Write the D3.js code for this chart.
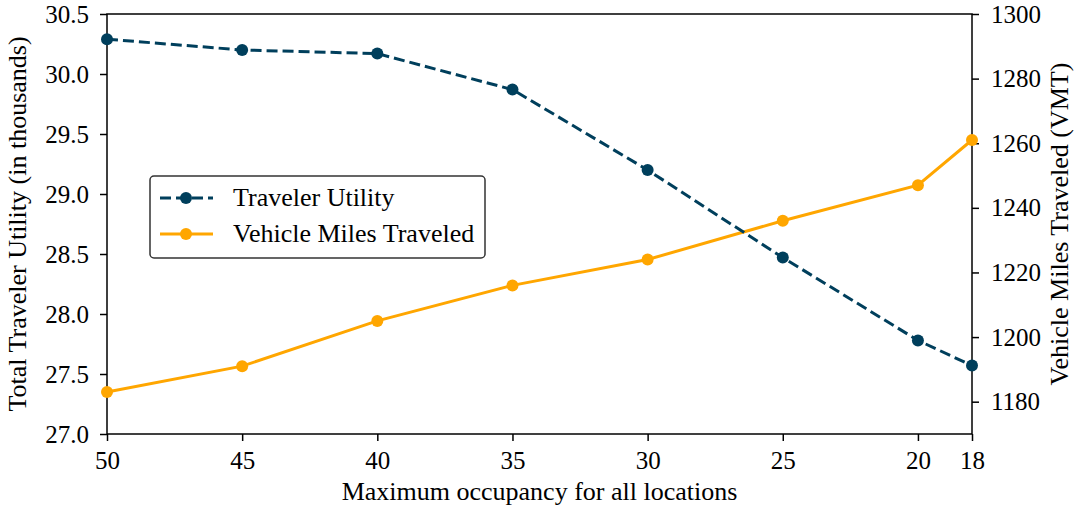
<!DOCTYPE html>
<html lang="en">
<head>
    <meta charset="UTF-8">
    <title>Traveler Utility vs VMT</title>
    <script src="https://d3js.org/d3.v7.min.js"></script>
    <style>
        body { margin: 0; background: #fff; }
        text { font-family: "Liberation Serif", "DejaVu Serif", serif; fill: #000; }
    </style>
</head>
<body>
    <svg id="chart" width="1075" height="512"></svg>
    <script>
        // Data
        const occupancy = [50, 45, 40, 35, 30, 25, 20, 18];
        const utility = [30.29, 30.2, 30.17, 29.87, 29.2, 28.47, 27.78, 27.57];
        const vmt = [1183, 1191, 1205, 1216, 1224, 1236, 1247, 1261];
        const leftTicks = [27.0, 27.5, 28.0, 28.5, 29.0, 29.5, 30.0, 30.5];
        const rightTicks = [1180, 1200, 1220, 1240, 1260, 1280, 1300];

        const margin = { top: 14, right: 103, bottom: 78, left: 107 };
        const width = 1075 - margin.left - margin.right;
        const height = 512 - margin.top - margin.bottom;

        const navy = "#003f5c";
        const orange = "#ffa600";
        const tickFont = "25px";
        const labelFont = "26px";

        const svg = d3.select("#chart")
            .append("g")
            .attr("transform", `translate(${margin.left},${margin.top})`);

        const x = d3.scaleLinear().domain([50, 18]).range([0, width]);
        const yL = d3.scaleLinear().domain([27.0, 30.5]).range([height, 0]);
        const yR = d3.scaleLinear().domain([1170, 1300]).range([height, 0]);

        // frame
        svg.append("rect")
            .attr("width", width).attr("height", height)
            .attr("fill", "none").attr("stroke", "#000").attr("stroke-width", 1.5);

        function styleAxis(g) {
            g.attr("font-family", null).attr("font-size", null);
            g.select(".domain").remove();
            g.selectAll(".tick line").attr("stroke", "#000").attr("stroke-width", 1.5);
            g.selectAll(".tick text").style("font-size", tickFont).attr("fill", "#000");
        }

        svg.append("g")
            .attr("transform", `translate(0,${height})`)
            .call(d3.axisBottom(x).tickValues(occupancy).tickSize(7).tickPadding(10).tickFormat(d3.format("d")))
            .call(styleAxis);

        svg.append("g")
            .call(d3.axisLeft(yL).tickValues(leftTicks).tickSize(7).tickPadding(11).tickFormat(d3.format(".1f")))
            .call(styleAxis);

        svg.append("g")
            .attr("transform", `translate(${width},0)`)
            .call(d3.axisRight(yR).tickValues(rightTicks).tickSize(7).tickPadding(12).tickFormat(d3.format("d")))
            .call(styleAxis);

        // axis labels
        svg.append("text")
            .attr("x", width / 2).attr("y", height + 66)
            .attr("text-anchor", "middle")
            .style("font-size", labelFont)
            .text("Maximum occupancy for all locations");

        svg.append("text")
            .attr("transform", `translate(${-81},${height / 2}) rotate(-90)`)
            .attr("text-anchor", "middle")
            .style("font-size", labelFont)
            .text("Total Traveler Utility (in thousands)");

        svg.append("text")
            .attr("transform", `translate(${width + 96},${height / 2}) rotate(-90)`)
            .attr("text-anchor", "middle")
            .style("font-size", labelFont)
            .text("Vehicle Miles Traveled (VMT)");

        // lines
        const utilLine = d3.line().x((d, i) => x(occupancy[i])).y(d => yL(d));
        const vmtLine = d3.line().x((d, i) => x(occupancy[i])).y(d => yR(d));

        svg.append("path")
            .datum(vmt)
            .attr("fill", "none").attr("stroke", orange).attr("stroke-width", 3)
            .attr("d", vmtLine);
        svg.selectAll(".vmt-dot")
            .data(vmt).enter().append("circle")
            .attr("cx", (d, i) => x(occupancy[i])).attr("cy", d => yR(d))
            .attr("r", 6).attr("fill", orange);

        svg.append("path")
            .datum(utility)
            .attr("fill", "none").attr("stroke", navy).attr("stroke-width", 3)
            .attr("stroke-dasharray", "11,5")
            .attr("d", utilLine);
        svg.selectAll(".util-dot")
            .data(utility).enter().append("circle")
            .attr("cx", (d, i) => x(occupancy[i])).attr("cy", d => yL(d))
            .attr("r", 6).attr("fill", navy);

        // legend
        const legend = svg.append("g").attr("transform", "translate(43,162)");
        legend.append("rect")
            .attr("width", 335).attr("height", 82).attr("rx", 4)
            .attr("fill", "#fff").attr("stroke", "#333").attr("stroke-width", 1.5);
        const items = [
            { name: "Traveler Utility", color: navy, dash: "11,5" },
            { name: "Vehicle Miles Traveled", color: orange, dash: null }
        ];
        items.forEach((it, i) => {
            const cy = 22 + i * 36;
            legend.append("line")
                .attr("x1", 10).attr("x2", 63).attr("y1", cy).attr("y2", cy)
                .attr("stroke", it.color).attr("stroke-width", 3)
                .attr("stroke-dasharray", it.dash);
            legend.append("circle").attr("cx", 36).attr("cy", cy).attr("r", 6).attr("fill", it.color);
            legend.append("text")
                .attr("x", 83).attr("y", cy + 8)
                .style("font-size", labelFont)
                .text(it.name);
        });
    </script>
</body>
</html>
